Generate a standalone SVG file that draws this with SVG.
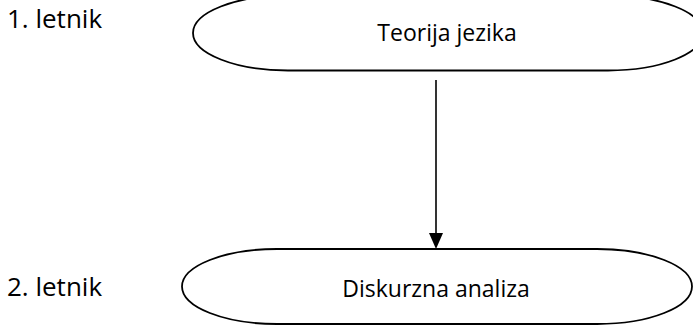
<svg xmlns="http://www.w3.org/2000/svg" width="693" height="326" viewBox="0 0 693 326">
<style>
.shape{fill:#fff;stroke:#000;stroke-width:1.8}
.t{font-family:"Open Sans","Liberation Sans",sans-serif;font-size:23px;fill:#000}
.lbl{font-family:"Open Sans","Liberation Sans",sans-serif;font-size:26px;fill:#000}
.conn{stroke:#000;stroke-width:1.6;fill:none}
</style>
<rect width="693" height="326" fill="#fff"/>
<g id="label1"><text class="lbl" x="7" y="28">1. letnik</text></g>
<g id="label2"><text class="lbl" x="7" y="296">2. letnik</text></g>
<g id="node1">
<path class="shape" d="M288,-4.5 H608 A95,37.5 0 0 1 608,70.5 H288 A95,37.5 0 0 1 288,-4.5 Z"/>
<text class="t" x="447" y="41" text-anchor="middle">Teorija jezika</text>
</g>
<g id="node2">
<path class="shape" d="M277,249 H597 A95,37.5 0 0 1 597,324 H277 A95,37.5 0 0 1 277,249 Z"/>
<text class="t" x="436" y="297" text-anchor="middle">Diskurzna analiza</text>
</g>
<g id="connectors">
<line class="conn" x1="436" y1="80" x2="436" y2="234"/>
<path d="M429,233 L443,233 L436,249 Z" fill="#000"/>
</g>
</svg>
